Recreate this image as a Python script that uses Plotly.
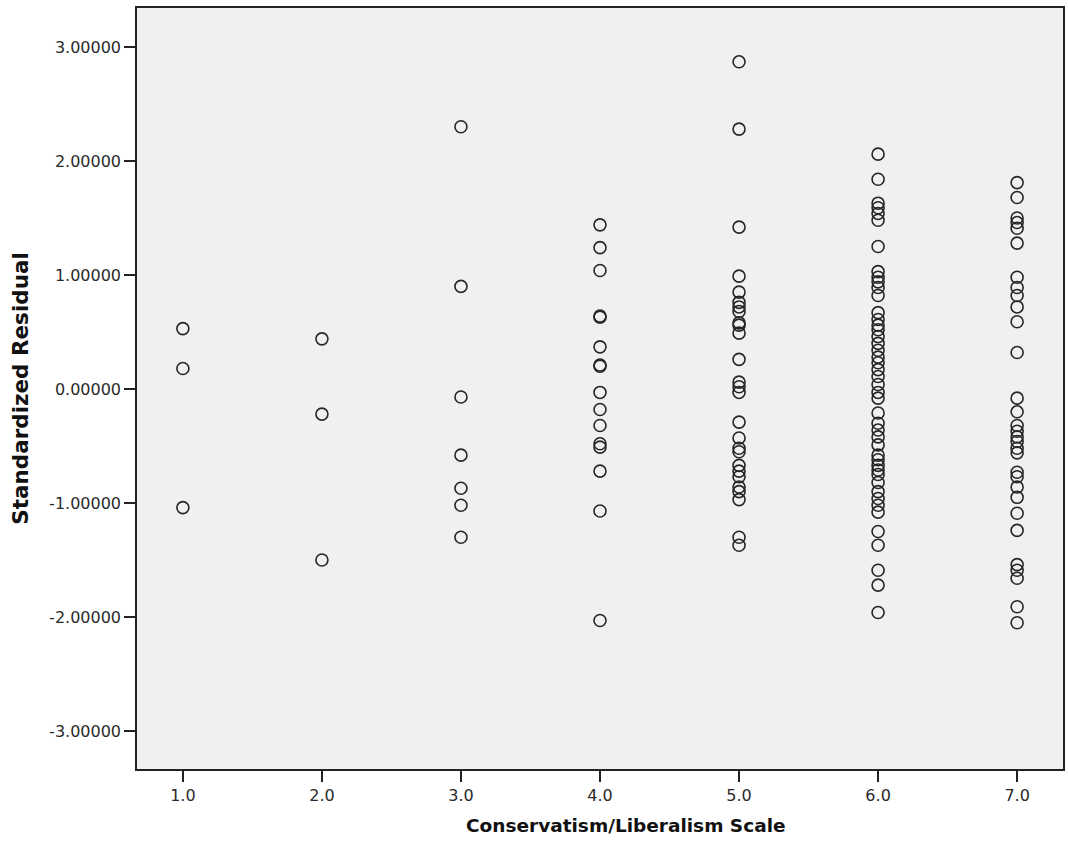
import plotly.graph_objects as go

scale_1 = [0.53, 0.18, -1.04]
scale_2 = [0.44, -0.22, -1.50]
scale_3 = [2.30, 0.90, -0.07, -0.58, -0.87, -1.02, -1.30]
scale_4 = [1.44, 1.24, 1.04, 0.64, 0.63, 0.37, 0.21, 0.20, -0.03, -0.18,
           -0.32, -0.48, -0.51, -0.72, -1.07, -2.03]
scale_5 = [2.87, 2.28, 1.42, 0.99, 0.85, 0.76, 0.72, 0.68, 0.58, 0.56, 0.49,
           0.26, 0.06, 0.02, -0.03, -0.29, -0.43, -0.52, -0.55, -0.67, -0.72,
           -0.77, -0.86, -0.90, -0.97, -1.30, -1.37]
scale_6 = [2.06, 1.84, 1.63, 1.59, 1.54, 1.48, 1.25, 1.03, 0.98, 0.94, 0.89,
           0.82, 0.67, 0.61, 0.56, 0.52, 0.46, 0.40, 0.34, 0.28, 0.23, 0.17,
           0.11, 0.04, -0.03, -0.08, -0.21, -0.30, -0.36, -0.42, -0.49, -0.58,
           -0.62, -0.67, -0.71, -0.75, -0.82, -0.90, -0.96, -1.02, -1.08,
           -1.25, -1.37, -1.59, -1.72, -1.96]
scale_7 = [1.81, 1.68, 1.50, 1.46, 1.41, 1.28, 0.98, 0.89, 0.82, 0.72, 0.59,
           0.32, -0.08, -0.20, -0.32, -0.37, -0.42, -0.46, -0.52, -0.56, -0.73,
           -0.77, -0.86, -0.95, -1.09, -1.24, -1.54, -1.59, -1.66, -1.91, -2.05]

groups = [(1.0, scale_1), (2.0, scale_2), (3.0, scale_3), (4.0, scale_4),
          (5.0, scale_5), (6.0, scale_6), (7.0, scale_7)]

xs, ys = [], []
for xv, vals in groups:
    xs += [xv] * len(vals)
    ys += vals

x_ticks = [1.0, 2.0, 3.0, 4.0, 5.0, 6.0, 7.0]
y_ticks = [3.0, 2.0, 1.0, 0.0, -1.0, -2.0, -3.0]
x_labels = ["%.1f" % v for v in x_ticks]
y_labels = ["%.5f" % v for v in y_ticks]
x_title = "Conservatism/Liberalism Scale"
y_title = "Standardized Residual"

fig = go.Figure(go.Scatter(
    x=xs, y=ys, mode="markers",
    marker=dict(symbol="circle-open", size=12, color="#262626",
                line=dict(width=1.6, color="#262626")),
    hoverinfo="x+y",
))

tick_font = dict(family="DejaVu Sans, sans-serif", size=16, color="#2a2a2a")

fig.update_layout(
    width=1068, height=857,
    margin=dict(l=137, r=3, t=8, b=88),
    paper_bgcolor="white", plot_bgcolor="#f0f0f0",
    showlegend=False,
    font=tick_font,
    annotations=[
        dict(text="<b>%s</b>" % x_title, xref="paper", yref="paper",
             x=0.528, y=-0.0749, xanchor="center", yanchor="middle",
             showarrow=False,
             font=dict(family="DejaVu Sans, sans-serif", size=18.5, color="#111111")),
        dict(text="<b>%s</b>" % y_title, xref="paper", yref="paper",
             x=-0.126, y=0.5, xanchor="center", yanchor="middle",
             textangle=-90, showarrow=False,
             font=dict(family="DejaVu Sans, sans-serif", size=21.5, color="#111111")),
    ],
)
fig.update_xaxes(
    range=[0.67, 7.33], tickvals=x_ticks, ticktext=x_labels,
    showgrid=False, zeroline=False,
    showline=True, linecolor="#222222", linewidth=1.5, mirror=True,
    ticks="outside", ticklen=11, tickwidth=1.5, tickcolor="#222222",
    tickfont=tick_font,
)
fig.update_yaxes(
    range=[-3.333, 3.342], tickvals=y_ticks, ticktext=y_labels,
    showgrid=False, zeroline=False,
    showline=True, linecolor="#222222", linewidth=1.5, mirror=True,
    ticks="outside", ticklen=11, tickwidth=1.5, tickcolor="#222222",
    tickfont=tick_font,
)

fig.write_html("out.html")
